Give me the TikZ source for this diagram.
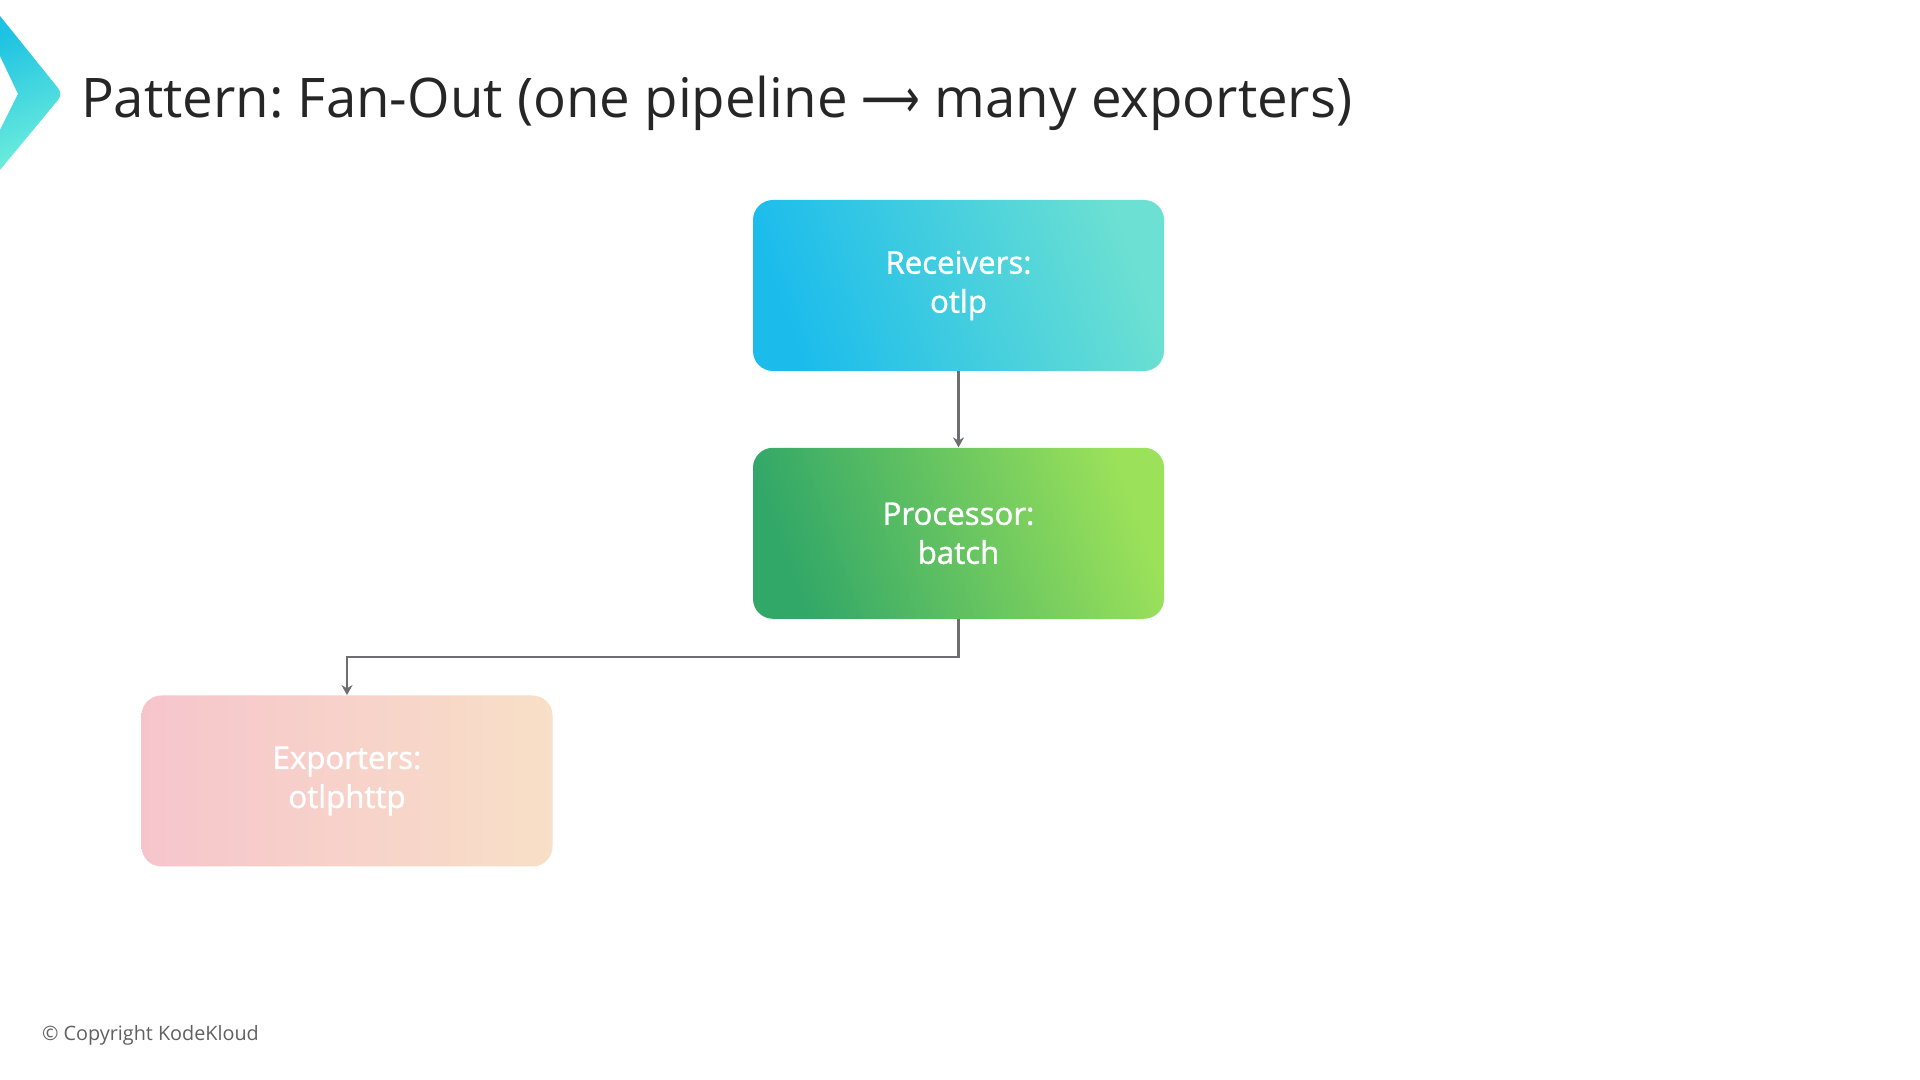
\documentclass[tikz,border=0pt]{standalone}
\usepackage{fontspec}
\setmainfont{Open Sans}
\newfontfamily\arrowfont{DejaVu Sans}
\newfontfamily\labelfont{Open Sans}[FakeBold=1.3]
\frenchspacing
\usetikzlibrary{shapes,arrows.meta,positioning,calc,fadings}

\definecolor{recvA}{HTML}{1BBCEC}
\definecolor{recvB}{HTML}{6CE0D2}
\definecolor{procA}{HTML}{31A768}
\definecolor{procB}{HTML}{9BE15A}
\definecolor{expA}{HTML}{F6C5CC}
\definecolor{expB}{HTML}{F8DFC7}
\definecolor{chevA}{HTML}{1EC2E2}
\definecolor{chevB}{HTML}{6EEEDC}
\definecolor{linkgray}{HTML}{6E6E72}

\tikzset{
  stagebox/.style={rounded corners=10pt, minimum width=205.5pt, minimum height=85.5pt,
    align=center, text=white, font=\labelfont\fontsize{15.6}{19.5}\selectfont, inner sep=0},
  link/.style={draw=linkgray, line width=1.2pt, -{Stealth[length=5pt,width=5.5pt]}}
}

\begin{document}
\begin{tikzpicture}[x=0.5pt,y=0.5pt]

\useasboundingbox[fill=white] (0,0) rectangle (1920,1080);

% header chevron
\shade[top color=chevA, bottom color=chevB, shading angle=20]
  (0,1064) -- (58,992) to[out=-50,in=50] (58,980) -- (0,910) -- (0,950)
  -- (18,986) -- (0,1024) -- cycle;

\node[anchor=west, text=black!85, font=\fontsize{27.3}{32}\selectfont] (title) at (74,977)
  {Pattern: Fan-Out (one pipeline {\arrowfont\scalebox{0.75}[1]{⟶}} many exporters)};

% pipeline
\node[stagebox, left color=recvA, right color=recvB, shading angle=110] (recv) at (958.5,794.5)
  {Receivers:\\otlp};
\node[stagebox, left color=procA, right color=procB, shading angle=110, below=38pt of recv] (proc)
  {Processor:\\batch};
\node[stagebox, left color=expA, right color=expB] (exp) at (347,299)
  {Exporters:\\otlphttp};

\draw[link] (recv) -- (proc);
\draw[link] (proc.south) -- ++(0,-38) -| (exp.north);

\node[anchor=west, text=black!62, font=\fontsize{9.9}{12}\selectfont] (copy) at (35,45)
  {\textcopyright{} Copyright KodeKloud};

\end{tikzpicture}
\end{document}
